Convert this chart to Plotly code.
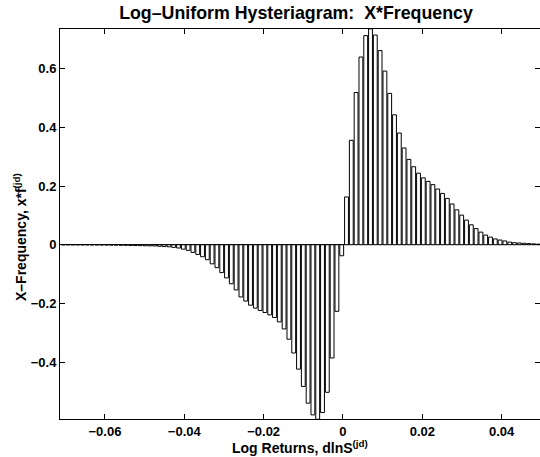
import numpy as np
import plotly.graph_objects as go

# Bin layout (log returns)
bin_start = -0.0705
bin_width = 0.00121

# X*Frequency values per bin (left to right)
neg_values = [
    -0.0002, -0.0002, -0.0003, -0.0003, -0.0004, -0.0005, -0.0006, -0.0007,
    -0.0008, -0.0010, -0.0012, -0.0014, -0.0016, -0.0019, -0.0022, -0.0026,
    -0.0030, -0.0034, -0.0038, -0.004, -0.005, -0.006, -0.007, -0.009,
    -0.011, -0.015, -0.019, -0.026, -0.033, -0.041, -0.051, -0.065,
    -0.078, -0.095, -0.113, -0.133, -0.154, -0.178, -0.192, -0.206,
    -0.216, -0.224, -0.231, -0.239, -0.248, -0.263, -0.287, -0.322,
    -0.369, -0.424, -0.483, -0.540, -0.580, -0.595, -0.572, -0.503,
    -0.386, -0.227, -0.0375,
]
pos_values = [
    0.163, 0.356, 0.519, 0.640, 0.713, 0.736, 0.715, 0.662, 0.592, 0.516,
    0.443, 0.381, 0.330, 0.291, 0.266, 0.244, 0.228, 0.216, 0.205, 0.190,
    0.175, 0.158, 0.139, 0.119, 0.101, 0.084, 0.068, 0.055, 0.043, 0.033,
    0.026, 0.020, 0.016, 0.013, 0.009, 0.007, 0.006, 0.005, 0.004, 0.003,
    0.002,
]
values = neg_values + pos_values
centers = bin_start + bin_width * np.arange(len(values))

x_ticks = [-0.06, -0.04, -0.02, 0, 0.02, 0.04]
x_tick_labels = ["\u22120.06", "\u22120.04", "\u22120.02", "0", "0.02", "0.04"]
y_ticks = [-0.4, -0.2, 0, 0.2, 0.4, 0.6]
y_tick_labels = ["\u22120.4", "\u22120.2", "0", "0.2", "0.4", "0.6"]

title_text = "Log\u2013Uniform Hysteriagram:  X*Frequency"
x_title = "Log Returns, dlnS<sup>(jd)</sup>"
y_title = "X\u2013Frequency, x*f<sup>(jd)</sup>"

fig = go.Figure(
    go.Bar(
        x=centers,
        y=values,
        width=bin_width * 0.8,
        marker=dict(color="white", line=dict(color="black", width=1)),
    )
)

font_family = "Liberation Sans, Arial, Helvetica, sans-serif"

W, H = 540, 457
PLOT_L, PLOT_T, PLOT_B = 60, 29, 38
plot_h = H - PLOT_T - PLOT_B
plot_w = W - PLOT_L

fig.update_layout(
    width=W,
    height=H,
    margin=dict(l=PLOT_L, r=0, t=PLOT_T, b=PLOT_B, autoexpand=False),
    paper_bgcolor="white",
    plot_bgcolor="white",
    showlegend=False,
    font=dict(family=font_family, size=13, color="black", weight="bold"),
    title=dict(
        text=title_text,
        x=296 / W,
        xanchor="center",
        y=1 - 12.5 / H,
        yanchor="middle",
        font=dict(family=font_family, size=17.8, color="black", weight="bold"),
    ),
    annotations=[
        dict(
            text=x_title,
            xref="paper", yref="paper",
            x=0.5, y=-28 / plot_h,
            xanchor="center", yanchor="middle",
            showarrow=False,
            font=dict(family=font_family, size=14, color="black", weight="bold"),
        ),
        dict(
            text=y_title,
            xref="paper", yref="paper",
            x=-40 / plot_w, y=(plot_h - (237 - PLOT_T)) / plot_h,
            xanchor="center", yanchor="middle",
            textangle=-90,
            showarrow=False,
            font=dict(family=font_family, size=14, color="black", weight="bold"),
        ),
    ],
)

fig.update_xaxes(
    range=[-0.07134, 0.04967],
    tickvals=x_ticks,
    ticktext=x_tick_labels,
    ticks="inside",
    ticklen=5,
    tickcolor="black",
    showline=True,
    linecolor="black",
    linewidth=1,
    mirror="ticks",
    showgrid=False,
    zeroline=False,
    automargin=False,
    tickfont=dict(size=13, weight="bold"),
)
fig.update_yaxes(
    range=[-0.594, 0.7355],
    tickvals=y_ticks,
    ticktext=y_tick_labels,
    ticks="inside",
    ticklen=5,
    tickcolor="black",
    showline=True,
    linecolor="black",
    linewidth=1,
    mirror="ticks",
    showgrid=False,
    zeroline=True,
    zerolinecolor="black",
    zerolinewidth=1,
    automargin=False,
    tickfont=dict(size=13, weight="bold"),
)

# Remove the default page margin so the 540x457 figure fills the window exactly.
page_script = (
    "document.documentElement.style.margin='0';"
    "document.body.style.margin='0';"
    "document.body.style.overflow='hidden';"
)

fig.write_html(
    "out.html",
    post_script=page_script,
    config={"displayModeBar": False},
)
